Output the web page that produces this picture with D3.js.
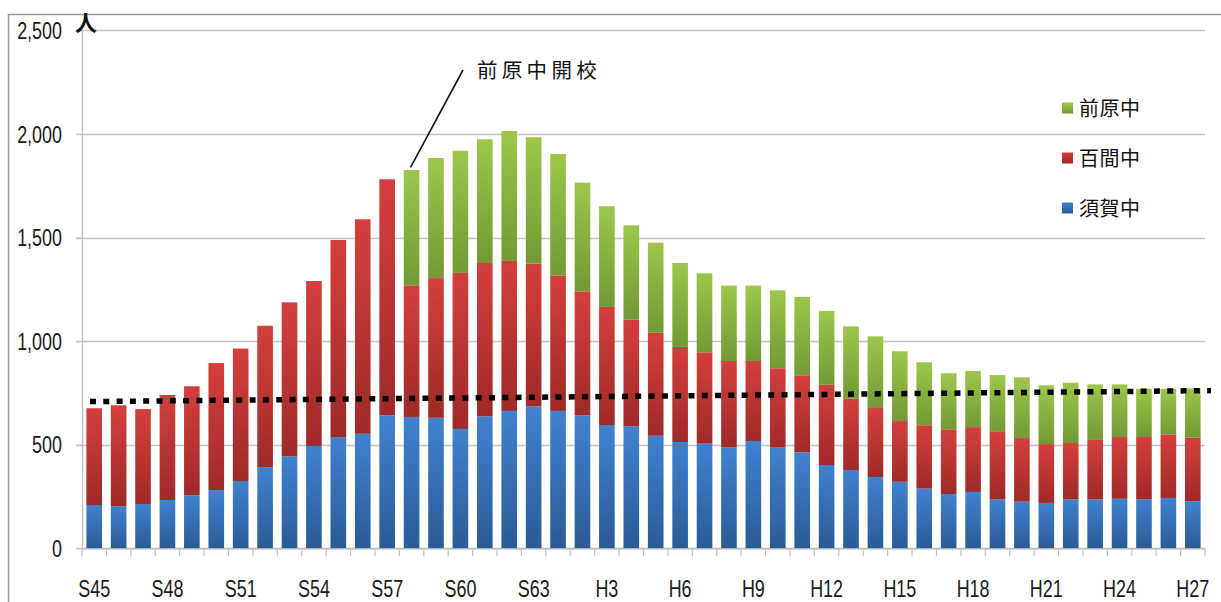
<!DOCTYPE html>
<html lang="ja">
<head>
<meta charset="utf-8">
<script src="https://cdn.jsdelivr.net/npm/d3@7"></script>
<style>
  html, body { margin: 0; padding: 0; background: #fff; }
  svg { display: block; }
  .num { font-family: "Liberation Sans", Arial, sans-serif; font-size: 23px; fill: #1a1a1a; }
  .jp { font-family: "Noto Sans CJK JP", "Noto Sans CJK SC", sans-serif; fill: #111; }
</style>
</head>
<body>
<svg id="chart" width="1221" height="602"></svg>
<script>
// 年度（昭和45年〜平成27年）
const years = [
  "S45","S46","S47","S48","S49","S50","S51","S52","S53","S54","S55","S56","S57",
  "S58","S59","S60","S61","S62","S63",
  "H1","H2","H3","H4","H5","H6","H7","H8","H9","H10","H11","H12","H13","H14",
  "H15","H16","H17","H18","H19","H20","H21","H22","H23","H24","H25","H26","H27"
];

// 生徒数（人）
const sugaChu = [
  209,203,214,233,256,281,325,392,444,494,537,553,642,
  634,630,576,637,663,685,
  663,642,595,589,543,513,505,487,518,486,463,402,378,344,
  321,288,262,272,236,225,219,236,236,239,236,243,227
];
const momomaChu = [
  467,487,458,507,526,613,639,682,743,796,951,1035,1139,
  635,674,753,740,724,689,
  653,598,570,514,497,459,441,417,386,383,372,387,344,333,
  293,306,312,313,329,307,284,272,287,298,301,307,307
];
const maebaraChu = [
  0,0,0,0,0,0,0,0,0,0,0,0,0,
  557,580,590,597,627,610,
  587,525,486,456,435,405,381,364,364,376,378,357,349,346,
  337,304,271,271,271,293,284,291,268,254,233,220,238
];

// 点線（始点・終点の人数）
const trendLine = [708, 761];

// 軸目盛
const yTicks = [0, 500, 1000, 1500, 2000, 2500];
const xTickLabels = ["S45","S48","S51","S54","S57","S60","S63","H3","H6","H9","H12","H15","H18","H21","H24","H27"];

// 系列（積み上げ順：下から）
const seriesKeys = ["須賀中", "百間中", "前原中"];
const seriesColors = {
  "須賀中": ["#4082d0", "#2b5a96"],
  "百間中": ["#d43f3c", "#9e2a27"],
  "前原中": ["#9dc74b", "#739835"]
};
const legendOrder = ["前原中", "百間中", "須賀中"];
const openingYear = "S58";
const openingLabel = "前原中開校";

const rows = years.map((y, i) => ({
  year: y,
  "須賀中": sugaChu[i],
  "百間中": momomaChu[i],
  "前原中": maebaraChu[i]
}));

const svg = d3.select("#chart");
const W = 1221, H = 602;
const plot = { left: 82, right: 1205, top: 30.3, bottom: 548.3 };
const narrow = 0.78; // 数字ラベルの横幅

// 外枠
svg.append("path")
  .attr("d", `M8.5,${H + 2} V14.5 H${W + 2}`)
  .attr("fill", "none")
  .attr("stroke", "#9a9a9a")
  .attr("stroke-width", 1.5);

// グラデーション
const defs = svg.append("defs");
seriesKeys.forEach((k, i) => {
  const g = defs.append("linearGradient")
    .attr("id", "grad" + i)
    .attr("x1", 0).attr("y1", 0).attr("x2", 0).attr("y2", 1);
  g.append("stop").attr("offset", "0%").attr("stop-color", seriesColors[k][0]);
  g.append("stop").attr("offset", "100%").attr("stop-color", seriesColors[k][1]);
});

const x = d3.scaleBand()
  .domain(years)
  .range([plot.left, plot.right])
  .paddingInner(0.36)
  .paddingOuter(0.18);

const y = d3.scaleLinear()
  .domain([0, 2500])
  .range([plot.bottom, plot.top]);

// 目盛線
svg.append("g")
  .selectAll("line")
  .data(yTicks)
  .join("line")
  .attr("x1", plot.left - 6)
  .attr("x2", plot.right)
  .attr("y1", d => Math.round(y(d)) + 0.5)
  .attr("y2", d => Math.round(y(d)) + 0.5)
  .attr("stroke", "#c4c4c4")
  .attr("stroke-width", 1.3);

// Y軸
const yAxis = svg.append("g")
  .attr("transform", `translate(${plot.left},0)`)
  .call(d3.axisLeft(y).tickValues(yTicks).tickFormat(d3.format(",")).tickSize(6).tickPadding(14));
yAxis.attr("font-family", null).attr("font-size", null);
yAxis.select(".domain").attr("stroke", "#bdbdbd").attr("stroke-width", 1.3)
  .attr("d", `M0.5,${plot.top}V${plot.bottom}`);
yAxis.selectAll(".tick line").attr("stroke", "#c4c4c4");
yAxis.selectAll(".tick text")
  .attr("class", "num")
  .attr("fill", null)
  .attr("x", null)
  .attr("dy", "0.36em")
  .attr("transform", `translate(-20,0) scale(${narrow},1)`);

// 単位
svg.append("text")
  .attr("class", "jp")
  .attr("x", 75)
  .attr("y", 31)
  .attr("font-size", 22)
  .attr("font-weight", "bold")
  .text("人");

// 積み上げ棒
const stacked = d3.stack().keys(seriesKeys)(rows);

svg.append("g")
  .selectAll("g")
  .data(stacked)
  .join("g")
  .attr("fill", (d, i) => `url(#grad${i})`)
  .selectAll("rect")
  .data(d => d.filter(p => p[1] > p[0]))
  .join("rect")
  .attr("x", d => x(d.data.year))
  .attr("width", x.bandwidth())
  .attr("y", d => y(d[1]))
  .attr("height", d => y(d[0]) - y(d[1]));

// X軸（区切り目盛）
const step = x.step();
const boundaries = d3.range(years.length + 1).map(i => plot.left + i * step);
svg.append("line")
  .attr("x1", plot.left).attr("x2", plot.right)
  .attr("y1", plot.bottom + 0.5).attr("y2", plot.bottom + 0.5)
  .attr("stroke", "#bdbdbd").attr("stroke-width", 1.3);
svg.append("g")
  .selectAll("line")
  .data(boundaries)
  .join("line")
  .attr("x1", d => d).attr("x2", d => d)
  .attr("y1", plot.bottom).attr("y2", plot.bottom + 8)
  .attr("stroke", "#c0c0c0").attr("stroke-width", 1.2);

svg.append("g")
  .selectAll("text")
  .data(xTickLabels)
  .join("text")
  .attr("class", "num")
  .attr("text-anchor", "middle")
  .attr("transform", d => `translate(${x(d) + x.bandwidth() / 2},596.5) scale(${narrow},1)`)
  .text(d => d);

// 点線
svg.append("line")
  .attr("x1", plot.left + 8)
  .attr("x2", plot.right + 6)
  .attr("y1", y(trendLine[0]))
  .attr("y2", y(trendLine[1]))
  .attr("stroke", "#000")
  .attr("stroke-width", 5.5)
  .attr("stroke-dasharray", "6 7.3");

// 前原中開校の注記
const openIdx = years.indexOf(openingYear);
const openTotal = sugaChu[openIdx] + momomaChu[openIdx] + maebaraChu[openIdx];
svg.append("line")
  .attr("x1", 463).attr("y1", 70)
  .attr("x2", x(openingYear) + x.bandwidth() / 2 - 1)
  .attr("y2", y(openTotal) - 2.5)
  .attr("stroke", "#111")
  .attr("stroke-width", 1.6);
svg.append("text")
  .attr("class", "jp")
  .attr("x", 477)
  .attr("y", 78)
  .attr("font-size", 20.5)
  .attr("letter-spacing", "4.3px")
  .text(openingLabel);

// 凡例
const legend = svg.append("g")
  .selectAll("g")
  .data(legendOrder)
  .join("g")
  .attr("transform", (d, i) => `translate(1062,${108 + i * 50})`);
legend.append("rect")
  .attr("x", 0).attr("y", -5.5)
  .attr("width", 11).attr("height", 11)
  .attr("fill", d => `url(#grad${seriesKeys.indexOf(d)})`);
legend.append("text")
  .attr("class", "jp")
  .attr("x", 17)
  .attr("y", 7.5)
  .attr("font-size", 20)
  .attr("letter-spacing", "0.5px")
  .text(d => d);
</script>
</body>
</html>
